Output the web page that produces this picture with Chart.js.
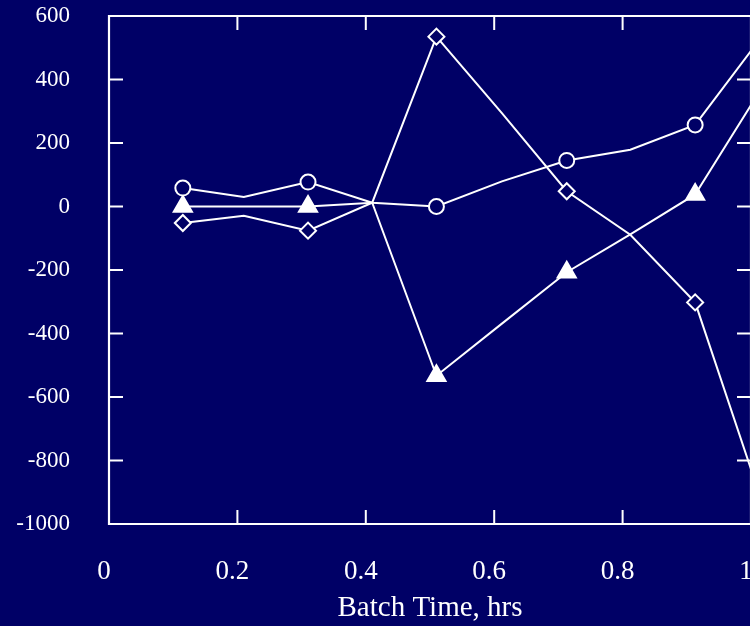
<!DOCTYPE html>
<html>
<head>
<meta charset="utf-8">
<title>Batch Time, hrs</title>
<script src="https://cdn.jsdelivr.net/npm/chart.js@4/dist/chart.umd.min.js"></script>
<style>
  html, body { margin: 0; padding: 0; overflow: hidden; background: #000066; }
  #wrap { width: 770px; height: 626px; }
</style>
</head>
<body>
<div id="wrap"><canvas id="chart" width="770" height="626"></canvas></div>
<script>
// Sampling times (hrs)
const batchTime = [0.115, 0.21, 0.31, 0.41, 0.51, 0.612, 0.713, 0.812, 0.913, 1.013];

// Three response traces sampled at the same batch times
const circleSeries   = [58, 30, 77, 12, 0, 79, 145, 179, 257, 525];
const triangleSeries = [0, 0, 0, 12, -533, -369, -207, -88, 38, 361];
const diamondSeries  = [-52, -29, -76, 12, 535, 294, 48, -89, -302, -906];

// Axis ticks
const xTicks = [0, 0.2, 0.4, 0.6, 0.8, 1];
const yTicks = [600, 400, 200, 0, -200, -400, -600, -800, -1000];

const NAVY = '#000066';
const WHITE = '#ffffff';
const SERIF = '"Liberation Serif", "Times New Roman", serif';

const toPoints = ys => ys.map((y, i) => ({ x: batchTime[i], y }));

// markers only on every other sample
const markerEvery = r => ctx => (ctx.dataIndex % 2 === 0 ? r : 0);

function series(values, style, radius, fill) {
  return {
    data: toPoints(values),
    borderColor: WHITE,
    borderWidth: 2,
    pointStyle: style,
    pointRadius: markerEvery(radius),
    pointHoverRadius: markerEvery(radius),
    pointBackgroundColor: fill,
    pointBorderColor: WHITE,
    pointBorderWidth: 2,
    tension: 0,
    fill: false
  };
}

// Background plus a closed frame with inward-pointing ticks
const framePlugin = {
  id: 'frame',
  beforeDraw(chart) {
    const c = chart.ctx;
    c.save();
    c.fillStyle = NAVY;
    c.fillRect(0, 0, chart.width, chart.height);
    c.restore();
  },
  afterDatasetsDraw(chart) {
    const { ctx: c, chartArea: a, scales: { x, y } } = chart;
    const len = 14;
    c.save();
    c.strokeStyle = WHITE;
    c.lineWidth = 2.2;
    c.beginPath();
    c.rect(a.left, a.top, a.right - a.left, a.bottom - a.top);
    c.stroke();
    c.lineWidth = 2;
    c.beginPath();
    xTicks.slice(1, -1).forEach(v => {
      const px = x.getPixelForValue(v);
      c.moveTo(px, a.top); c.lineTo(px, a.top + len);
      c.moveTo(px, a.bottom); c.lineTo(px, a.bottom - len);
    });
    yTicks.slice(1, -1).forEach(v => {
      const py = y.getPixelForValue(v);
      c.moveTo(a.left, py); c.lineTo(a.left + len, py);
      c.moveTo(a.right, py); c.lineTo(a.right - len, py);
    });
    c.stroke();
    c.restore();
  }
};

new Chart(document.getElementById('chart'), {
  type: 'line',
  data: {
    datasets: [
      series(circleSeries, 'circle', 7.5, NAVY),
      series(triangleSeries, 'triangle', 10.5, WHITE),
      series(diamondSeries, 'rectRot', 8, NAVY)
    ]
  },
  options: {
    responsive: false,
    animation: false,
    layout: { padding: { top: 16, right: 19, left: 0, bottom: 0 } },
    plugins: { legend: { display: false }, tooltip: { enabled: false } },
    scales: {
      x: {
        type: 'linear',
        min: 0,
        max: 1,
        afterBuildTicks: s => { s.ticks = xTicks.map(v => ({ value: v })); },
        grid: { display: false, drawTicks: false },
        border: { display: false },
        ticks: {
          color: WHITE,
          font: { family: SERIF, size: 27 },
          padding: 32,
          labelOffset: -5,
          maxRotation: 0,
          callback: v => String(v)
        },
        title: {
          display: true,
          text: 'Batch Time, hrs',
          color: WHITE,
          font: { family: SERIF, size: 29 },
          padding: { top: 0, bottom: 0 }
        },
        afterFit: s => { s.height = 102; s.paddingLeft = 0; s.paddingRight = 0; }
      },
      y: {
        type: 'linear',
        min: -1000,
        max: 600,
        afterBuildTicks: s => { s.ticks = yTicks.map(v => ({ value: v })); },
        grid: { display: false, drawTicks: false },
        border: { display: false },
        ticks: {
          color: WHITE,
          font: { family: SERIF, size: 23 },
          padding: 39,
          callback: v => String(v)
        },
        afterFit: s => { s.width = 109; s.paddingTop = 0; s.paddingBottom = 0; }
      }
    }
  },
  plugins: [framePlugin]
});
</script>
</body>
</html>
